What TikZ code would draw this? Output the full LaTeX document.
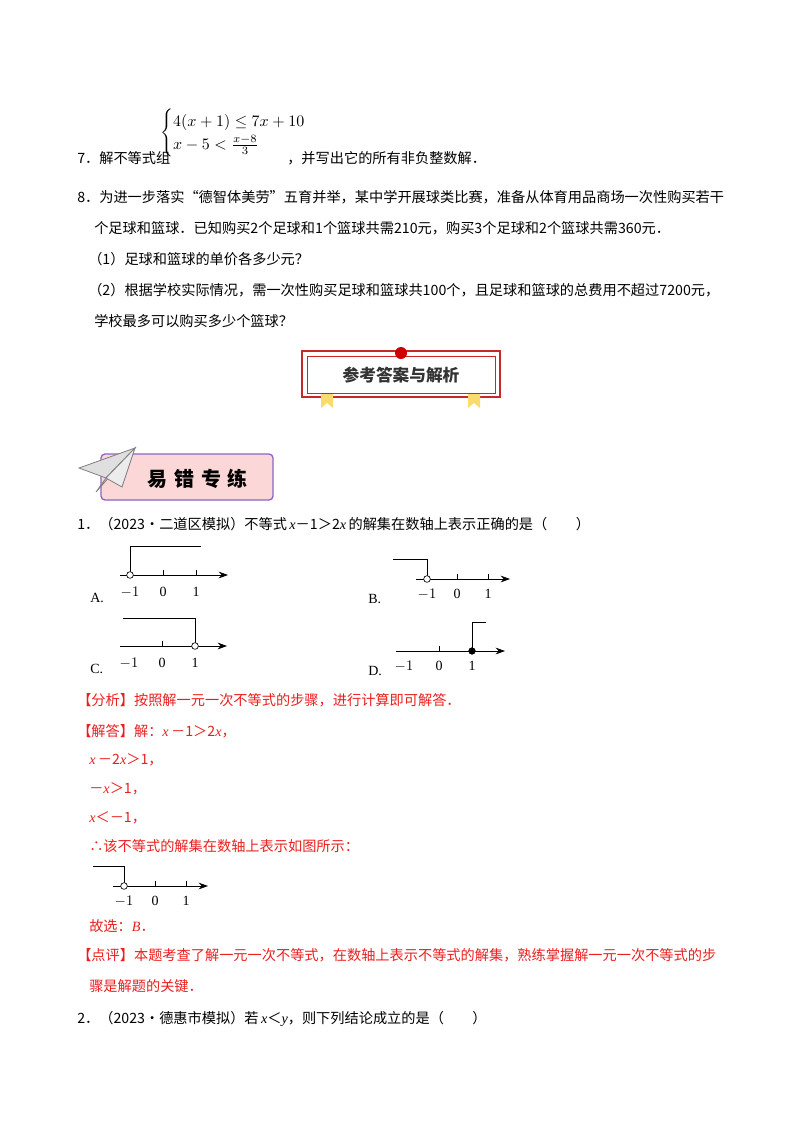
\documentclass[tikz,border=0pt]{standalone}
\usepackage{amsmath}
\usepackage{fontspec}
\setmainfont{Liberation Serif}
\newfontfamily\cjk{Noto Sans CJK SC}
\usetikzlibrary{arrows.meta}
\definecolor{ansred}{RGB}{235,30,30}
\definecolor{bred}{RGB}{200,40,40}
\definecolor{bpurple}{RGB}{140,100,200}
\definecolor{bpink}{RGB}{252,215,215}
\definecolor{byellow}{RGB}{250,220,110}
\tikzset{
 txt/.style={anchor=base west,inner sep=0pt,font=\cjk\fontsize{10.65}{12}\selectfont},
 rtxt/.style={txt,text=ansred},
 ax/.style={line width=0.6pt,-{Stealth[length=7pt,width=5pt]}},
 reg/.style={line width=0.6pt},
 tk/.style={line width=0.5pt},
 lab/.style={font=\fontsize{10.5}{12}\selectfont,inner sep=0pt,anchor=base},
 ocirc/.style={circle,draw,fill=white,inner sep=0pt,minimum size=5pt,line width=0.5pt},
 fcirc/.style={circle,draw,fill=black,inner sep=0pt,minimum size=5pt}
}
\newcommand{\vx}{{\rmfamily\itshape x}}
\newcommand{\vy}{{\rmfamily\itshape y}}
\newcommand{\vB}{{\rmfamily\itshape B}}
\begin{document}
\begin{tikzpicture}[x=0.75pt,y=-0.75pt]
\useasboundingbox (0,0) rectangle (800,1132);
% Q7
\node[txt] (q7a) at (77,163) {7．解不等式组};
\node[anchor=west,inner sep=0pt,scale=1.2] (sys) at (160,133) {$\begin{cases}4(x+1)\le 7x+10\\ x-5<\frac{x-8}{3}\end{cases}$};
\node[txt] (q7b) at (287,163) {，并写出它的所有非负整数解．};
% Q8
\node[txt] (q8a) at (77,202) {8．为进一步落实“德智体美劳”五育并举，某中学开展球类比赛，准备从体育用品商场一次性购买若干};
\node[txt] (q8b) at (94,233) {个足球和篮球．已知购买2个足球和1个篮球共需210元，购买3个足球和2个篮球共需360元．};
\node[txt] (q8c) at (88,264) {（1）足球和篮球的单价各多少元？};
\node[txt] (q8d) at (88,295) {（2）根据学校实际情况，需一次性购买足球和篮球共100个，且足球和篮球的总费用不超过7200元，};
\node[txt] (q8e) at (94,326) {学校最多可以购买多少个篮球？};
% banner 1
\draw[bred,line width=0.8pt,fill=white] (302,351) rectangle (500,397);
\draw[bred,line width=0.6pt] (307,356) rectangle (495,393);
\fill[byellow] (321,394)--(333,394)--(333,408)--(327,403)--(321,408)--cycle;
\fill[byellow] (468,394)--(480,394)--(480,408)--(474,403)--(468,408)--cycle;
\fill[red!80!black] (401,353) circle (6);
\node[font=\cjk\bfseries\fontsize{12.5}{14}\selectfont,text=black!80] (ban1) at (401,375) {参考答案与解析};
% banner 2
\draw[bpurple,line width=1pt,fill=bpink,rounded corners=3pt] (101,454) rectangle (273,500);
\node[font=\cjk\bfseries\fontsize{15}{16}\selectfont] (ban2) at (198,479) {易\,\,错\,\,专\,\,练};
\fill[gray!25,draw=gray,line width=0.6pt] (79,468)--(135,448)--(106,478)--cycle;
\fill[gray!45,draw=gray,line width=0.6pt] (106,478)--(135,448)--(96,492)--cycle;
\fill[gray!15,draw=gray,line width=0.6pt] (106,478)--(135,448)--(122,487)--cycle;
% Q1
\node[txt] (q1) at (77,529) {1．（2023•二道区模拟）不等式\,\vx－1＞2\vx\,的解集在数轴上表示正确的是（　　）};
% A
\node[lab,anchor=base west] (la) at (90,602) {A.};
\draw[ax] (120,575) -- (228,575);
\draw[tk] (163,575)--(163,570) (196,575)--(196,570);
\draw[reg] (130,575)--(130,546)--(201,546);
\node[ocirc] (ca) at (130,575) {};
\node[lab] at (130,596) {$-1$}; \node[lab] at (163,596) {0}; \node[lab] at (196,596) {1};
% B
\node[lab,anchor=base west] (lb) at (368,603) {B.};
\draw[ax] (416,579) -- (510,579);
\draw[tk] (457,579)--(457,574) (488,579)--(488,574);
\draw[reg] (393,559)--(427,559)--(427,579);
\node[ocirc] (cb) at (427,579) {};
\node[lab] at (427,598) {$-1$}; \node[lab] at (457,598) {0}; \node[lab] at (488,598) {1};
% C
\node[lab,anchor=base west] (lc) at (90,673) {C.};
\draw[ax] (120,646) -- (227,646);
\draw[tk] (162,646)--(162,641);
\draw[reg] (123,618)--(195,618)--(195,646);
\node[ocirc] (cc) at (195,646) {};
\node[lab] at (129,667) {$-1$}; \node[lab] at (162,667) {0}; \node[lab] at (195,667) {1};
% D
\node[lab,anchor=base west] (ld) at (368,675) {D.};
\draw[ax] (396,651) -- (505,651);
\draw[tk] (439,651)--(439,646);
\draw[reg] (472,651)--(472,622)--(486,622);
\node[fcirc] (cd) at (472,651) {};
\node[lab] at (404,670) {$-1$}; \node[lab] at (439,670) {0}; \node[lab] at (472,670) {1};
% solution
\node[rtxt] (s1) at (77,705) {【分析】按照解一元一次不等式的步骤，进行计算即可解答．};
\node[rtxt] (s2) at (77,736) {【解答】解：\vx\,－1＞2\vx，};
\node[rtxt] (s3) at (89,764) {\vx\,－2\vx＞1，};
\node[rtxt] (s4) at (89,793) {－\vx＞1，};
\node[rtxt] (s5) at (89,822) {\vx＜－1，};
\node[rtxt] (s6) at (89,851) {∴该不等式的解集在数轴上表示如图所示：};
\draw[ax] (113,886) -- (208,886);
\draw[tk] (155,886)--(155,881) (186,886)--(186,881);
\draw[reg] (93,866)--(124,866)--(124,886);
\node[ocirc] (ce) at (124,886) {};
\node[lab] at (124,905) {$-1$}; \node[lab] at (155,905) {0}; \node[lab] at (186,905) {1};
\node[rtxt] (s7) at (89,931) {故选：\vB．};
\node[rtxt] (s8) at (77,960) {【点评】本题考查了解一元一次不等式，在数轴上表示不等式的解集，熟练掌握解一元一次不等式的步};
\node[rtxt] (s9) at (89,991) {骤是解题的关键．};
\node[txt] (q2) at (77,1023) {2．（2023•德惠市模拟）若\,\vx＜\vy，则下列结论成立的是（　　）};
\end{tikzpicture}
\end{document}
